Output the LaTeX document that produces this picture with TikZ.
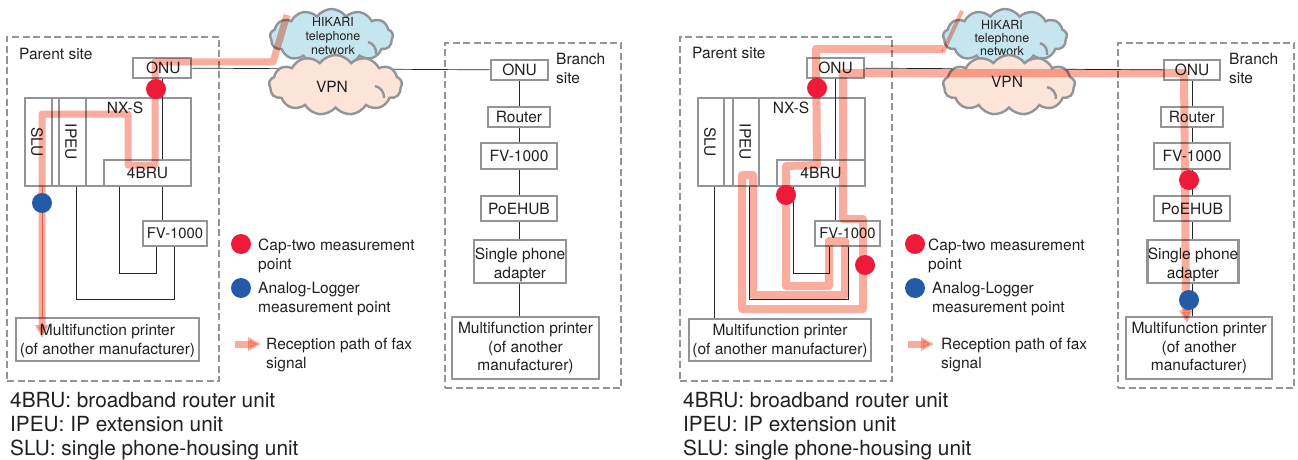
\documentclass[tikz,border=0pt]{standalone}
\usepackage{fontspec}
\setmainfont{TeX Gyre Heros}
\usetikzlibrary{arrows.meta,shapes.symbols}
\pgfdeclarelayer{bg}
\pgfdeclarelayer{path}
\pgfdeclarelayer{fg}
\pgfsetlayers{bg,main,path,fg}
\definecolor{boxgray}{HTML}{929497}
\definecolor{inktext}{HTML}{231F20}
\definecolor{faxpink}{HTML}{FAAD9E}
\definecolor{faxedge}{HTML}{E88570}
\definecolor{capred}{HTML}{EF1A3A}
\definecolor{logblue}{HTML}{255AA8}
\definecolor{hikarifill}{HTML}{C5E6EE}
\definecolor{vpnfill}{HTML}{FCE4D9}
\newcommand{\lowtext}[1]{\raisebox{-1.5pt}{#1}}
\tikzset{
    every node/.style={inner sep=0mm, text=inktext, font=\fontsize{15.5}{18.8}\selectfont, align=center}
}
\tikzset{unitbox/.style={rectangle, draw=boxgray, line width=2.7pt, fill=white}}
\tikzset{sitebox/.style={rectangle, draw=boxgray, line width=2.2pt, dash pattern=on 7pt off 3.5pt}}
\tikzset{capdot/.style={circle, fill=capred, minimum size=20pt}}
\tikzset{logdot/.style={circle, fill=logblue, minimum size=20pt}}
\tikzset{netcloud/.style={cloud, cloud puffs=13, cloud puff arc=110, draw=boxgray, line width=2.4pt}}
\tikzset{cloudarc/.style={draw=boxgray, line width=2.4pt}}
\tikzset{wire/.style={black!85, line width=.7pt}}
\tikzset{faxpath/.style={faxpink, line width=7pt, line join=round, blend mode=multiply}}
\tikzset{faxtip/.style={faxpath, -{Triangle[length=13pt,width=13pt]}}}

\begin{document}
\begin{tikzpicture}[x=1pt, y=-1pt]
        \useasboundingbox (0,0) rectangle (1298,460);
        % left panel
        \node (parentA) [sitebox, minimum width=212, minimum height=344] at (113,209) {};
        \node (branchA) [sitebox, minimum width=176, minimum height=345] at (533,215.5) {};
        \node (hikariA) [netcloud, fill=hikarifill, minimum width=123, minimum height=56] at (331.5,37) {};
        \draw[cloudarc] (368,42) to[bend left=40] (376,54);
        \node (hikariTextA) [font=\fontsize{12.5}{14}\selectfont] at (333,36) {HIKARI\\telephone\\network};
        \node (vpnA) [netcloud, fill=vpnfill, minimum width=133, minimum height=60] at (335.5,85) {};
        \draw[cloudarc] (375,86) to[bend left=40] (384,98);
        \node (vpnTextA) at (332,87) {VPN};
        \node (onuA) [unitbox, minimum width=58, minimum height=20] at (162,68) {\raisebox{-2pt}{\,ONU}};
        \node (sluA) [unitbox, minimum width=27, minimum height=88] at (38.5,142) {};
        \node (sluTextA) [rotate=-90] at (37,142) {SLU};
        \node (ipeuA) [unitbox, minimum width=27, minimum height=88] at (72.5,142) {};
        \node (ipeuTextA) [rotate=-90] at (71,142) {IPEU};
        \node (nxsTextA) at (125,108) {NX-S};
        \node (bruA) [unitbox, minimum width=87, minimum height=26] at (147.5,173) {\lowtext{4BRU}};
        \node (fvA) [unitbox, minimum width=64, minimum height=25, font=\fontsize{14.8}{18}\selectfont] at (175,233.5) {\lowtext{FV-1000}};
        \node (prnA) [unitbox, minimum width=183, minimum height=43] at (107.5,339.5) {};
        \node (prnTextA) at (107.5,341) {Multifunction printer\\(of another manufacturer)};
        \node (onuB) [unitbox, minimum width=57, minimum height=20] at (519.5,70) {ONU};
        \node (routerA) [unitbox, minimum width=62, minimum height=20] at (519,117) {\lowtext{Router}};
        \node (fvB) [unitbox, minimum width=76, minimum height=26] at (519,156) {\lowtext{FV-1000}};
        \node (hubA) [unitbox, minimum width=76, minimum height=25] at (519,208.5) {\lowtext{PoEHUB}};
        \node (phoneA) [unitbox, minimum width=92, minimum height=43] at (520,261.5) {};
        \node (phoneTextA) at (520,264.5) {Single phone\\adapter};
        \node (prnB) [unitbox, minimum width=147, minimum height=62] at (525.5,348) {Multifunction printer\\(of another\\manufacturer)};
        \node (parentLabelA) [anchor=west] at (19,54) {Parent site};
        \node (branchLabelA) [anchor=west, align=left] at (556,68.5) {Branch\\site};
        \node (capTextA) [anchor=west, align=left] at (258,255.5) {Cap-two measurement\\point};
        \node (logTextA) [anchor=west, align=left] at (258,299) {Analog-Logger\\measurement point};
        \node (faxTextA) [anchor=west, align=left] at (266,355) {Reception path of fax\\signal};
        \node (notesA) [anchor=west, align=left, font=\fontsize{20.8}{24}\selectfont] at (10,426) {4BRU: broadband router unit\\IPEU: IP extension unit\\SLU: single phone-housing unit};
        % right panel
        \node (parentC) [sitebox, minimum width=212, minimum height=344] at (786,209) {};
        \node (branchC) [sitebox, minimum width=176, minimum height=345] at (1206,215.5) {};
        \node (hikariC) [netcloud, fill=hikarifill, minimum width=124, minimum height=56] at (1005,37) {};
        \draw[cloudarc] (1040,43) to[bend left=40] (1047,55);
        \node (hikariTextC) [font=\fontsize{12.5}{13}\selectfont] at (1002,38) {HIKARI\\telephone\\network};
        \node (vpnC) [netcloud, fill=vpnfill, minimum width=132, minimum height=60] at (1009,85) {};
        \draw[cloudarc] (1047,87) to[bend left=40] (1056,99);
        \node (vpnTextC) at (1007,82) {VPN};
        \node (onuC) [unitbox, minimum width=57, minimum height=20] at (835.5,68) {\raisebox{-2pt}{ONU}};
        \node (sluC) [unitbox, minimum width=26, minimum height=88] at (711,142) {};
        \node (sluTextC) [rotate=-90] at (710,142) {SLU};
        \node (ipeuC) [unitbox, minimum width=26, minimum height=88] at (746,142) {};
        \node (ipeuTextC) [rotate=-90] at (745,142) {IPEU};
        \node (nxsTextC) at (791,108) {NX-S};
        \node (bruC) [unitbox, minimum width=88, minimum height=26] at (821,173) {\lowtext{4BRU}};
        \node (fvC) [unitbox, minimum width=65, minimum height=25, font=\fontsize{14.8}{18}\selectfont] at (847.5,233.5) {\lowtext{FV-1000}};
        \node (prnC) [unitbox, minimum width=182, minimum height=42] at (780,340) {};
        \node (prnTextC) at (780,341) {Multifunction printer\\(of another manufacturer)};
        \node (onuD) [unitbox, minimum width=56, minimum height=20] at (1192,70) {ONU};
        \node (routerC) [unitbox, minimum width=62, minimum height=20] at (1192,117) {\lowtext{Router}};
        \node (fvD) [unitbox, minimum width=76, minimum height=26] at (1192,156) {\lowtext{FV-1000}};
        \node (hubC) [unitbox, minimum width=76, minimum height=25] at (1192,208.5) {\lowtext{PoEHUB}};
        \node (phoneC) [unitbox, minimum width=91, minimum height=43] at (1193,261.5) {};
        \node (phoneTextC) at (1193,264.5) {Single phone\\adapter};
        \node (prnD) [unitbox, minimum width=146, minimum height=62] at (1199,348) {Multifunction printer\\(of another\\manufacturer)};
        \node (parentLabelC) [anchor=west] at (692,53) {Parent site};
        \node (branchLabelC) [anchor=west, align=left] at (1229,68.5) {Branch\\site};
        \node (capTextC) [anchor=west, align=left] at (928,255.5) {Cap-two measurement\\point};
        \node (logTextC) [anchor=west, align=left] at (932,299) {Analog-Logger\\measurement point};
        \node (faxTextC) [anchor=west, align=left] at (941,355) {Reception path of fax\\signal};
        \node (notesC) [anchor=west, align=left, font=\fontsize{20.8}{24}\selectfont] at (683,426) {4BRU: broadband router unit\\IPEU: IP extension unit\\SLU: single phone-housing unit};
        % wire ends
        \coordinate (sluTapA) at (42,318);
        \coordinate (ipeuTapA) at (76,299);
        \coordinate (ipeuTapB) at (174,299);
        \coordinate (bruTapA) at (119,273);
        \coordinate (bruTapB) at (156,273);
        \coordinate (sluTapC) at (714,318);
        \coordinate (ipeuTapC) at (749,299);
        \coordinate (ipeuTapD) at (848,299);
        \coordinate (bruTapC) at (793,273);
        \coordinate (bruTapD) at (829,273);
        \begin{pgfonlayer}{bg}
                \node (nxsA) [unitbox, minimum width=166, minimum height=88] at (108,142) {};
                \node (nxsC) [unitbox, minimum width=167, minimum height=88] at (781.5,142) {};
                \draw[wire] (onuA) -- (onuA |- fvA);
                \draw[wire] (onuA) -- (onuB);
                \draw[wire, draw=faxedge] (sluTapA |- sluA) -- (sluTapA);
                \draw[wire] (ipeuTapA |- ipeuA) -- (ipeuTapA) -- (ipeuTapB) -- (ipeuTapB |- fvA);
                \draw[wire] (bruTapA |- bruA) -- (bruTapA) -- (bruTapB) -- (bruTapB |- fvA);
                \draw[wire] (onuB) -- (prnB.north -| onuB);
                \draw[wire] (onuC) -- (onuC |- fvC);
                \draw[wire] (onuC) -- (onuD);
                \draw[wire] (sluTapC |- sluC) -- (sluTapC);
                \draw[wire] (ipeuTapC |- ipeuC) -- (ipeuTapC) -- (ipeuTapD) -- (ipeuTapD |- fvC);
                \draw[wire] (bruTapC |- bruC) -- (bruTapC) -- (bruTapD) -- (bruTapD |- fvC);
                \draw[wire] (onuD) -- (prnD.north -| onuD);
        \end{pgfonlayer}
        % fax paths
        \coordinate (faxStartA) at (287,15);
        \coordinate (faxEndA) at (42,338);
        \coordinate (faxStartC) at (962,11);
        \coordinate (faxEndC) at (1187,323);
        \coordinate (faxLegA) at (235,344);
        \coordinate (faxLegB) at (261,344);
        \coordinate (faxLegC) at (908,344);
        \coordinate (faxLegD) at (934,344);
        \begin{pgfonlayer}{path}
                \draw[faxtip] (faxStartA) -- (273,62) -- (155,62) -- (155,165) -- (128,165) -- (128,114) -- (42,114) -- (faxEndA);
                \draw[faxtip] (faxLegA) -- (faxLegB);
                \draw[faxpath, line width=4pt] (faxStartC) -- (943,52);
                \draw[faxpath, line width=8pt] (943,49) -- (816,49) -- (817,165) -- (786,166) -- (786,286) -- (829,286) -- (829,241) -- (845,241) -- (845,295) -- (753,295) -- (753,175) -- (742,175) -- (742,309) -- (863,309) -- (863,219) -- (843,219) -- (843,73) -- (1184,73) -- (1186,310);
                \draw[faxtip] (1186,309) -- (faxEndC);
                \draw[faxtip] (faxLegC) -- (faxLegD);
        \end{pgfonlayer}
        % measurement points
        \begin{pgfonlayer}{fg}
                \node (capA) [capdot] at (156,89) {};
                \node (logA) [logdot] at (42,203) {};
                \node (capLegA) [capdot] at (241,244) {};
                \node (logLegA) [logdot] at (241,288) {};
                \node (capC) [capdot] at (817,88) {};
                \node (capD) [capdot] at (786,195) {};
                \node (capE) [capdot] at (865,265) {};
                \node (capF) [capdot] at (1189,180) {};
                \node (logC) [logdot] at (1189,300) {};
                \node (capLegC) [capdot] at (915,244) {};
                \node (logLegC) [logdot] at (915,288) {};
        \end{pgfonlayer}
\end{tikzpicture}
\end{document}
